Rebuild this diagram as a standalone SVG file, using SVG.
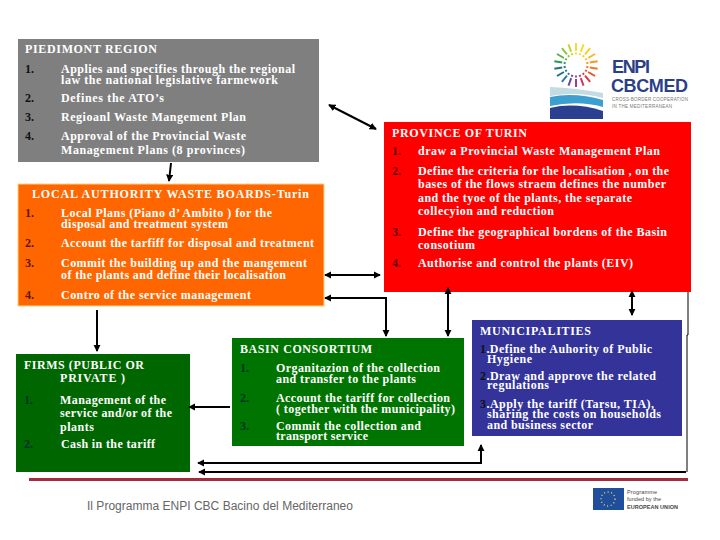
<svg xmlns="http://www.w3.org/2000/svg" width="720" height="540" viewBox="0 0 720 540">
<style>
text{font-family:"Liberation Serif","Times New Roman",serif;font-size:12px;font-weight:bold;fill:#fff}
.n{fill:#111}
.o{fill:#5a1800}
.r{fill:#6a0000}
.g{fill:#032}
.c{stroke:#000;stroke-width:2;fill:none}
.f{font-family:"Liberation Sans",Arial,sans-serif;font-weight:normal;fill:#666}
.ls{font-family:"Liberation Sans",Arial,sans-serif;font-size:18px;fill:#2b3f87}
.lt{font-family:"Liberation Sans",Arial,sans-serif;font-size:4.5px;font-weight:normal;fill:#777}
.eu{font-family:"Liberation Sans",Arial,sans-serif;font-size:5.5px;font-weight:normal;fill:#444}
</style>
<defs>
<marker id="a" viewBox="0 0 8 8" refX="7" refY="4" markerWidth="3.6" markerHeight="3.6" orient="auto-start-reverse"><path d="M0 0L8 4L0 8Z" fill="#000"/></marker>
<path id="ray" d="M576 51V43M576 54.5V52.5" fill="none" stroke-width="2"/>
</defs>
<rect width="720" height="540" fill="#fff"/>
<g id="logo">
<use href="#ray" stroke="#f0dc3c"/>
<use href="#ray" stroke="#f4dc2c" transform="rotate(20 576 65)"/>
<use href="#ray" stroke="#f6cf22" transform="rotate(40 576 65)"/>
<use href="#ray" stroke="#f5b820" transform="rotate(60 576 65)"/>
<use href="#ray" stroke="#f29a22" transform="rotate(80 576 65)"/>
<use href="#ray" stroke="#ee7b24" transform="rotate(100 576 65)"/>
<use href="#ray" stroke="#e6522a" transform="rotate(120 576 65)"/>
<use href="#ray" stroke="#d93a3a" transform="rotate(140 576 65)"/>
<use href="#ray" stroke="#c53a6a" transform="rotate(160 576 65)"/>
<use href="#ray" stroke="#a03c8c" transform="rotate(180 576 65)"/>
<use href="#ray" stroke="#6a4aa0" transform="rotate(200 576 65)"/>
<use href="#ray" stroke="#2a7ab8" transform="rotate(220 576 65)"/>
<use href="#ray" stroke="#1e6a8a" transform="rotate(240 576 65)"/>
<use href="#ray" stroke="#1e7a6a" transform="rotate(260 576 65)"/>
<use href="#ray" stroke="#2a9a5a" transform="rotate(280 576 65)"/>
<use href="#ray" stroke="#5ab04a" transform="rotate(300 576 65)"/>
<use href="#ray" stroke="#8cc63f" transform="rotate(320 576 65)"/>
<use href="#ray" stroke="#c0d63a" transform="rotate(340 576 65)"/>
<path d="M550 87Q575 88 603 93V98Q578 91 550 96Z" fill="#c3dbe3"/>
<path d="M550 97Q575 92 603 100V107Q578 100 550 106Z" fill="#3d9fd0"/>
<path d="M550 108Q575 102 603 111V119H550Z" fill="#2a3f8f"/>
<text x="612" y="73" class="ls" textLength="38">ENPI</text>
<text x="611" y="92" class="ls" textLength="77">CBCMED</text>
<text x="612" y="101" class="lt" textLength="76">CROSS-BORDER COOPERATION</text>
<text x="612" y="108" class="lt" textLength="60">IN THE MEDITERRANEAN</text>
</g>
<g id="piedmont">
<rect x="18" y="39" width="301" height="123" fill="#7f7f7f"/>
<text x="25" y="53" textLength="132">PIEDIMONT REGION</text>
<text class="n" x="25" y="73">1.</text><text x="61" y="73" textLength="234">Applies and specifies through the regional</text>
<text x="61" y="84" textLength="217">law the national legislative farmework</text>
<text class="n" x="25" y="102">2.</text><text x="61" y="102" textLength="103">Defines the ATO’s</text>
<text class="n" x="25" y="121">3.</text><text x="61" y="121" textLength="185">Regioanl Waste Mangement Plan</text>
<text class="n" x="25" y="140">4.</text><text x="61" y="140" textLength="185">Approval of the Provincial Waste</text>
<text x="61" y="154" textLength="184">Management Plans (8 provinces)</text>
</g>
<g id="authority">
<rect x="18" y="184" width="306" height="122" fill="#f60" stroke="#ffd27f"/>
<text x="32" y="198" textLength="277">LOCAL AUTHORITY WASTE BOARDS-Turin</text>
<text class="o" x="25" y="217">1.</text><text x="61" y="217" textLength="211">Local Plans (Piano d’ Ambito ) for the</text>
<text x="61" y="228" textLength="167">disposal and treatment system</text>
<text class="o" x="25" y="247">2.</text><text x="61" y="247" textLength="253">Account the tarfiff for disposal and treatment</text>
<text class="o" x="25" y="267">3.</text><text x="61" y="267" textLength="246">Commit the building up and the mangement</text>
<text x="61" y="279" textLength="225">of the plants and define their localisation</text>
<text class="o" x="25" y="299">4.</text><text x="61" y="299" textLength="190">Contro of the service management</text>
</g>
<g id="province">
<rect x="384" y="122" width="307" height="170" fill="#f00"/>
<text x="392" y="137" textLength="135">PROVINCE OF TURIN</text>
<text class="r" x="392" y="155">1.</text><text x="418" y="155" textLength="242">draw a Provincial Waste Management Plan</text>
<text class="r" x="392" y="175">2.</text><text x="418" y="175" textLength="251">Define the criteria for the localisation , on the</text>
<text x="418" y="188" textLength="248">bases of the flows straem defines the number</text>
<text x="418" y="202" textLength="214">and the tyoe of the plants, the separate</text>
<text x="418" y="215" textLength="136">collecyion and reduction</text>
<text class="r" x="392" y="236">3.</text><text x="418" y="236" textLength="249">Define the geographical bordens of the Basin</text>
<text x="418" y="249" textLength="57">consotium</text>
<text class="r" x="392" y="267">4.</text><text x="418" y="267" textLength="215">Authorise and control the plants (EIV)</text>
</g>
<g id="firms">
<rect x="16" y="354" width="174" height="118" fill="#060"/>
<text x="24" y="369" textLength="120">FIRMS (PUBLIC OR</text>
<text x="60" y="382" textLength="65">PRIVATE )</text>
<text class="g" x="24" y="404">1.</text><text x="60" y="404" textLength="106">Management of the</text>
<text x="60" y="417" textLength="112">service and/or of the</text>
<text x="60" y="431" textLength="34">plants</text>
<text class="g" x="24" y="448">2.</text><text x="61" y="448" textLength="94">Cash in the tariff</text>
</g>
<g id="basin">
<rect x="232" y="338" width="232" height="108" fill="#007400"/>
<text x="240" y="353" textLength="132">BASIN CONSORTIUM</text>
<text class="g" x="240" y="372">1.</text><text x="276" y="372" textLength="164">Organitazion of the collection</text>
<text x="276" y="383" textLength="140">and transfer to the plants</text>
<text class="g" x="240" y="402">2.</text><text x="276" y="402" textLength="174">Account the tariff for collection</text>
<text x="276" y="413" textLength="179">( together with the municipality)</text>
<text class="g" x="240" y="430">3.</text><text x="276" y="430" textLength="145">Commit the collection and</text>
<text x="276" y="440" textLength="92">transport service</text>
</g>
<g id="municipalities">
<rect x="472" y="320" width="210" height="116" fill="#339"/>
<text x="480" y="335" textLength="111">MUNICIPALITIES</text>
<text x="480" y="353" textLength="172"><tspan class="n">1</tspan>.Define the Auhority of Public</text>
<text x="487" y="363" textLength="45">Hygiene</text>
<text x="480" y="380" textLength="176"><tspan class="n">2</tspan>.Draw and approve the related</text>
<text x="487" y="389" textLength="62">regulations</text>
<text x="480" y="408" textLength="174"><tspan class="n">3</tspan>.Apply the tariff (Tarsu, TIA),</text>
<text x="487" y="418" textLength="174">sharing the costs on households</text>
<text x="487" y="429" textLength="106">and business sector</text>
</g>
<g id="connectors">
<path class="c" d="M171 163L169 181" marker-end="url(#a)"/>
<path class="c" d="M329 105L376 129" marker-start="url(#a)" marker-end="url(#a)"/>
<path class="c" d="M325 275H380" marker-start="url(#a)" marker-end="url(#a)"/>
<path class="c" d="M325 298H386V336" marker-start="url(#a)" marker-end="url(#a)"/>
<path class="c" d="M448 288V336" marker-start="url(#a)" marker-end="url(#a)"/>
<path class="c" d="M632 291V315" marker-start="url(#a)" marker-end="url(#a)"/>
<path class="c" d="M97 310V351" marker-end="url(#a)"/>
<path class="c" d="M230 407H189" marker-end="url(#a)"/>
<path class="c" d="M198 463H481V445" marker-start="url(#a)" marker-end="url(#a)"/>
<path class="c" d="M199 472H686" marker-start="url(#a)"/>
<path d="M687 472V335H688V292" stroke="#000" fill="none"/>
</g>
<rect x="29" y="478" width="659" height="3" fill="#a02c3c"/>
<text class="f" x="87" y="510" textLength="266">Il Programma ENPI CBC Bacino del Mediterraneo</text>
<g id="eu">
<rect x="593" y="488" width="31" height="22" fill="#1f4f9c"/>
<circle cx="608" cy="499" r="7" fill="none" stroke="#e8d84a" stroke-width="1.4" stroke-dasharray="1 2.6"/>
<text x="627" y="494" class="eu" textLength="30">Programme</text>
<text x="627" y="501" class="eu" textLength="34">funded by the</text>
<text x="627" y="509" class="eu" style="font-weight:bold" textLength="51">EUROPEAN UNION</text>
</g>
</svg>
